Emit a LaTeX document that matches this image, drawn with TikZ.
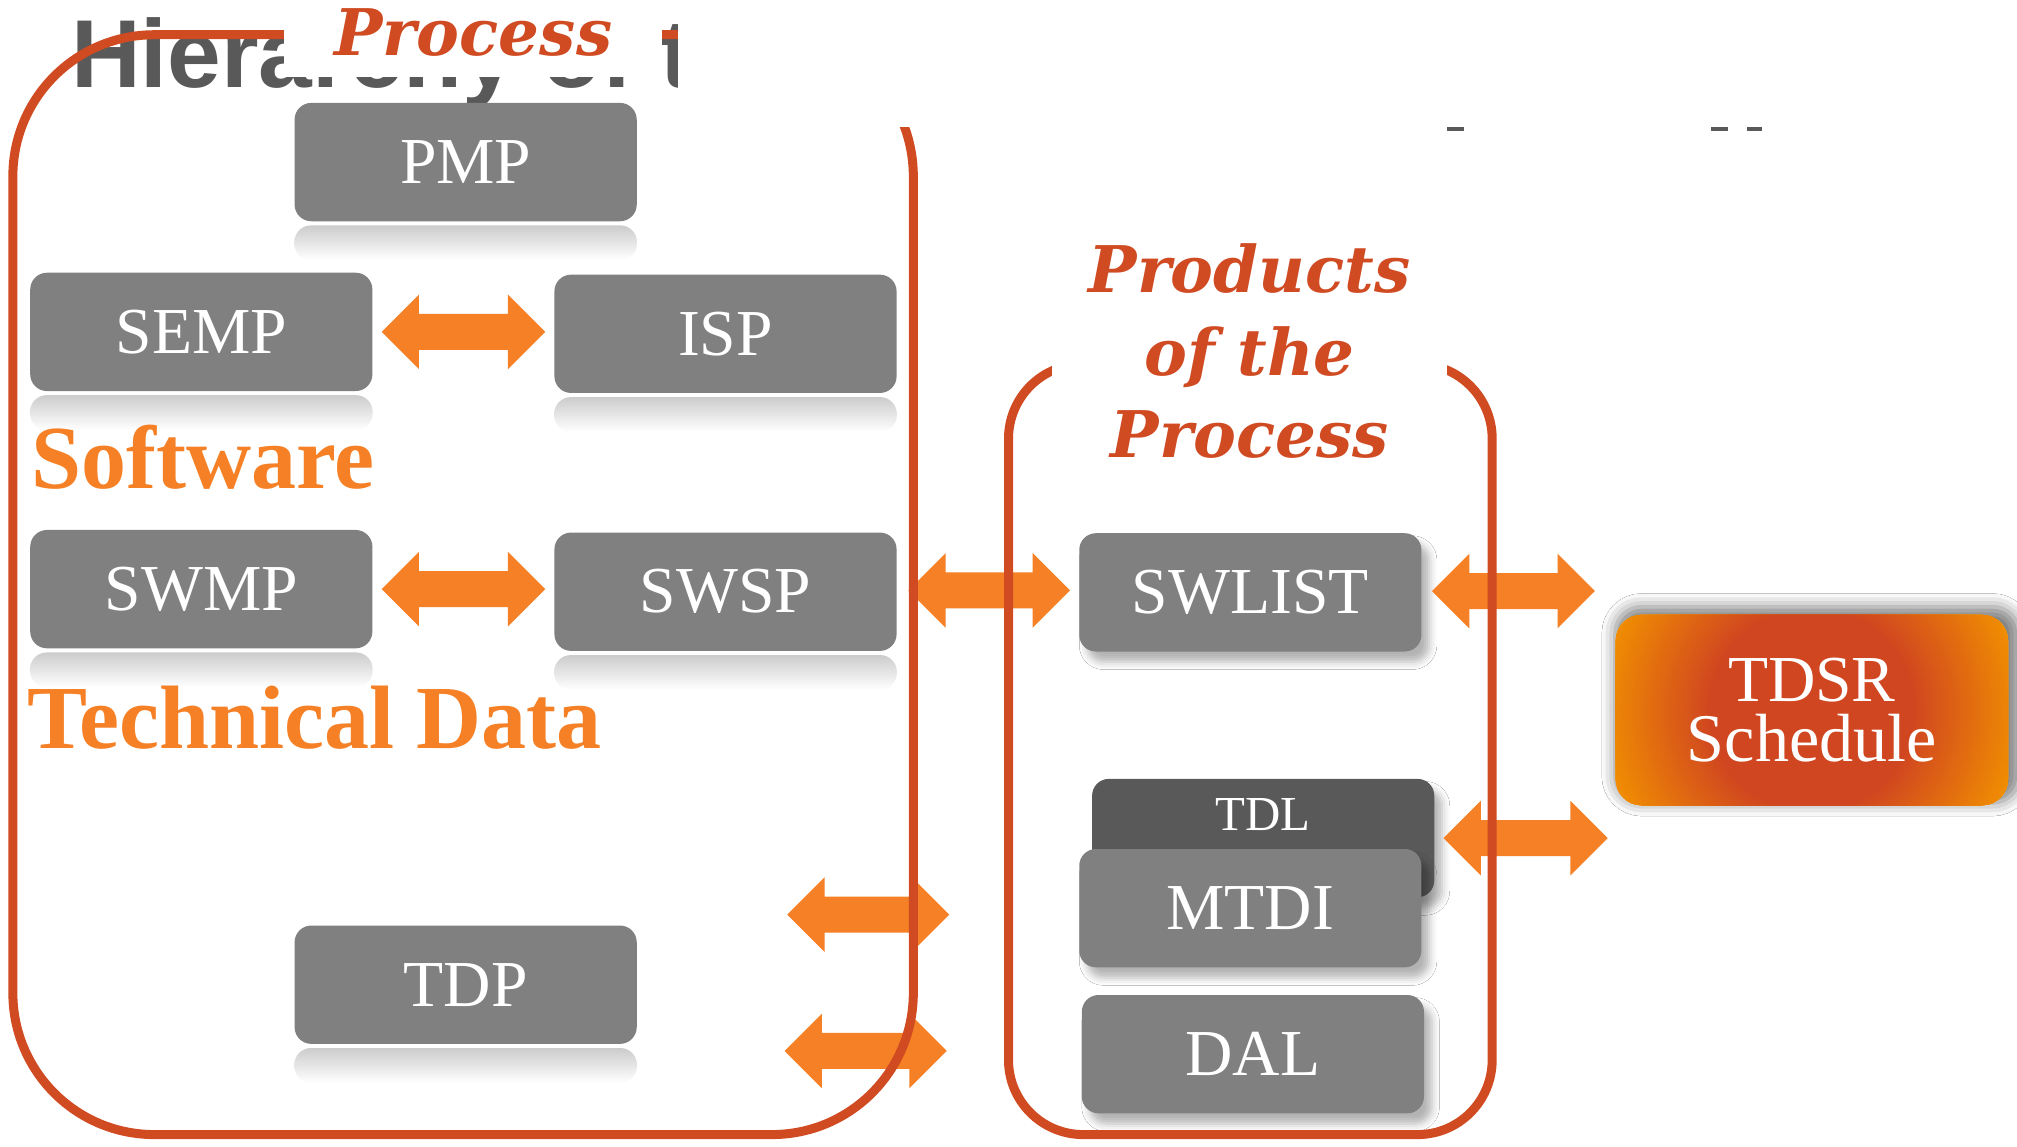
\documentclass[tikz,border=0pt]{standalone}
\usepackage{fontspec}
\setmainfont{Liberation Serif}
\newfontfamily\ttlfont{Liberation Sans}
\newfontfamily\dvsfont{DejaVu Serif}
\usetikzlibrary{calc,shadows.blur}
\definecolor{framered}{RGB}{208,74,34}
\definecolor{arroworange}{RGB}{245,128,37}
\definecolor{boxgray}{RGB}{128,128,128}
\definecolor{darkbox}{RGB}{89,89,89}
\definecolor{titlegray}{RGB}{89,89,89}
\definecolor{tdred}{RGB}{208,70,32}
\definecolor{tdorange}{RGB}{243,146,0}
\tikzset{
  gbox/.style={rectangle, rounded corners=13pt, fill=boxgray, text=white, inner sep=0pt,
    minimum width=266pt, minimum height=92pt, font=\fontsize{51}{55}\selectfont},
  rbox/.style={gbox, blur shadow={shadow xshift=6pt, shadow yshift=-8pt, shadow blur radius=6pt, shadow opacity=30}},
  refl/.style={top color=black!20, bottom color=white, rounded corners=13pt},
  frame/.style={draw=framered, line width=7pt},
  dblarrow/.style={fill=arroworange, to path={-- ++(29,-29) -- ++(0,15) -- ($(\tikztotarget)+(-29,-14)$) -- ++(0,-15) -- (\tikztotarget) -- ++(-29,29) -- ++(0,-15) -- ($(\tikztostart)+(29,14)$) -- ++(0,15) -- cycle}},
  cat/.style={text=arroworange, font=\fontsize{70}{74}\selectfont\bfseries, inner sep=0pt, anchor=base west},
  ptitle/.style={text=framered, font=\dvsfont\fontsize{50}{64}\selectfont\bfseries\itshape, fill=white, align=center, inner sep=0pt},
}
\begin{document}
\begin{tikzpicture}[x=1pt,y=-1pt]
\useasboundingbox (0,0) rectangle (1568,891);
\fill[white] (0,0) rectangle (1568,891);

% title (partly hidden)
\node[anchor=base west, inner sep=0pt, text=titlegray, font=\ttlfont\bfseries\fontsize{75}{80}\selectfont] (title) at (55,68) {Hierarchy of the};

% boxes
\node[gbox] (PMP) at (362,126) {PMP};
\node[gbox] (SEMP) at (156.5,258) {SEMP};
\node[gbox] (ISP) at (564,259.5) {ISP};
\node[gbox] (SWMP) at (156.5,458) {SWMP};
\node[gbox] (SWSP) at (564,460) {SWSP};
\node[gbox] (TDP) at (362,765.5) {TDP};
\foreach \b in {PMP,SEMP,ISP,SWMP,SWSP,TDP}{
  \shade[refl] ($(\b.south west)+(0,3)$) rectangle ($(\b.south east)+(0,30)$);
}

\node[rbox] (SWLIST) at (972,460.5) {SWLIST};
\node[rbox, fill=darkbox, font=\fontsize{38}{40}\selectfont, text height=30pt, text depth=42pt] (TDL) at (982,651.5) {TDL};
\node[rbox] (MTDI) at (972,706) {MTDI};
\node[rbox] (DAL) at (974,819.5) {DAL};

% TDSR schedule box: glow, gradient, then the node
\coordinate (tdc) at (1408.5,552);
\fill[white, rounded corners=20pt, blur shadow={shadow xshift=4pt, shadow yshift=4pt, shadow blur radius=10pt, shadow opacity=50, shadow scale=1.03}]
  ($(tdc)+(-152.5,-74)$) rectangle ($(tdc)+(152.5,74)$);
\begin{scope}
  \clip[rounded corners=20pt] ($(tdc)+(-152.5,-74)$) rectangle ($(tdc)+(152.5,74)$);
  \fill[tdorange] ($(tdc)+(-160,-80)$) rectangle ($(tdc)+(160,80)$);
  \foreach \i in {0,...,36}{
    \pgfmathsetmacro\rr{170-2.5*\i}
    \pgfmathsetmacro\pp{100*\i/36}
    \fill[tdred!\pp!tdorange] (tdc) circle (\rr pt);
  }
\end{scope}
\node[rectangle, minimum width=305pt, minimum height=148pt, inner sep=0pt,
  text=white, align=center, font=\fontsize{51}{47}\selectfont] (TDSR) at (tdc) {TDSR\\{\fontsize{53}{47}\selectfont Schedule}};

% category labels
\node[cat] (sw) at (24,380) {Software};
\node[cat] (td) at (21,582) {Technical Data};

% arrows
\coordinate (a1l) at ($(SEMP.east)+(7,0)$);
\coordinate (a1r) at ($(SEMP.east -| ISP.west)+(-7,0)$);
\coordinate (a2l) at ($(SWMP.east)+(7,0)$);
\coordinate (a2r) at ($(SWMP.east -| SWSP.west)+(-7,0)$);
\coordinate (a3l) at ($(SWSP.east)+(9,-1)$);
\coordinate (a3r) at ($(SWSP.east -| SWLIST.west)+(-7,-1)$);
\coordinate (a4l) at ($(SWLIST.east)+(8,-1)$);
\coordinate (a4r) at ($(SWLIST.east -| TDSR.west)+(-16,-1)$);
\coordinate (a5l) at ($(TDL.east)+(7,0)$);
\coordinate (a5r) at ($(TDL.east -| TDSR.west)+(-6,0)$);
\coordinate (b1l) at (612,711);
\coordinate (b1r) at (738,711);
\coordinate (b2l) at (610,817);
\coordinate (b2r) at (736,817);
\path[dblarrow] (a1l) to (a1r);
\path[dblarrow] (a2l) to (a2r);
\path[dblarrow] (a3l) to (a3r);
\path[dblarrow] (a4l) to (a4r);
\path[dblarrow] (a5l) to (a5r);
\path[dblarrow] (b1l) to (b1r);
\path[dblarrow] (b2l) to (b2r);

% frames
\draw[frame, rounded corners=110pt] (10,27) rectangle (710,882);
\draw[frame, rounded corners=58pt] (784,283) rectangle (1160,882);

% covers and frame titles
\fill[white] (527,-5) rectangle (1580,99);
\fill[titlegray] (1125,99) rectangle (1138,102);
\fill[titlegray] (1330,99) rectangle (1343,101.5);
\fill[titlegray] (1358,99) rectangle (1370,101.5);
\node[fill=white, text=framered, font=\dvsfont\fontsize{50}{55}\selectfont\bfseries\itshape, minimum width=294pt, minimum height=70pt, inner sep=0pt] (proc) at (368,25) {Process};
\node[ptitle, minimum width=307pt] (prod) at (971.5,273) {Products\\of the\\Process};
\end{tikzpicture}
\end{document}
